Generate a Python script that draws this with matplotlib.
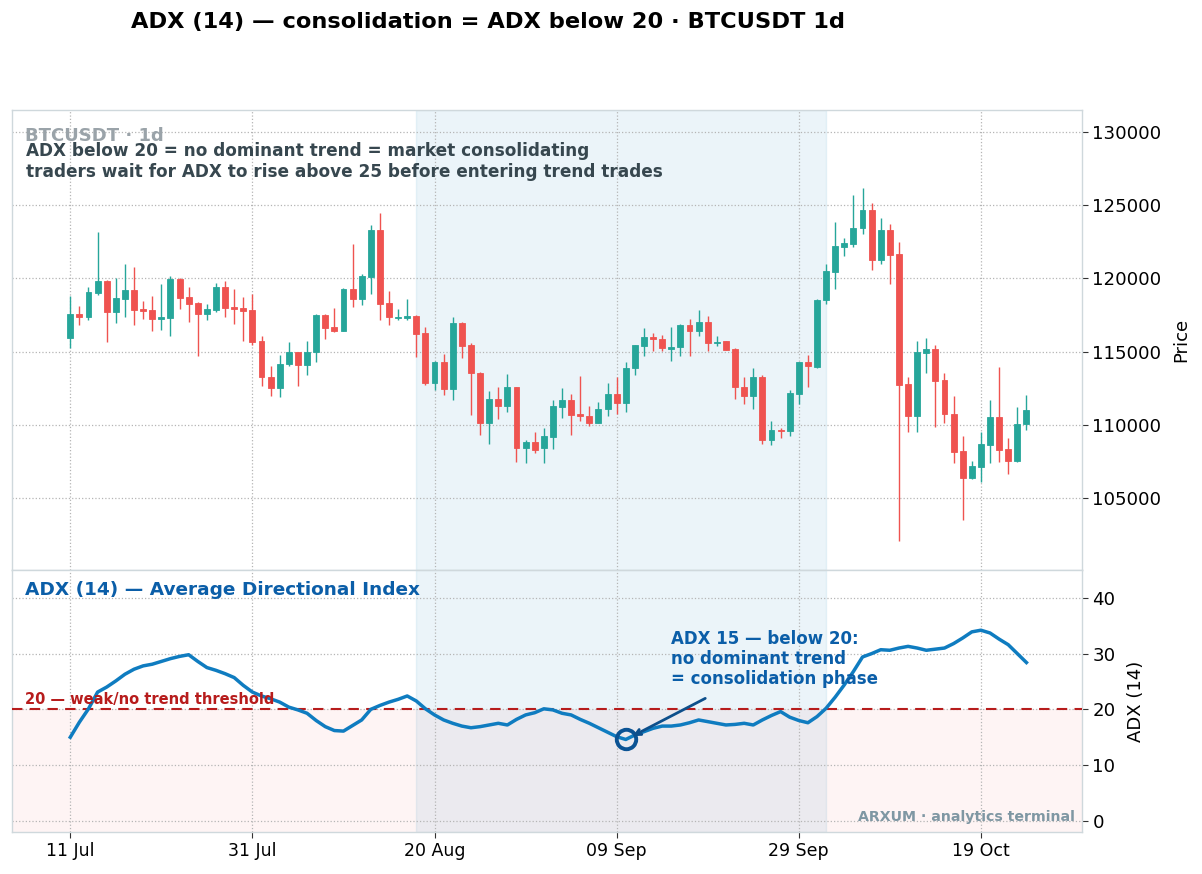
import numpy as np
import pandas as pd
import matplotlib
matplotlib.use("Agg")
import matplotlib.pyplot as plt
import matplotlib.dates as mdates

# BTCUSDT daily candles, 11 Jul .. 24 Oct
dates = pd.date_range("2025-07-11", periods=106, freq="D")

opens = [115936, 117534, 117329, 118995, 119818, 117694, 118584, 119178, 117900, 117808,
         117215, 117283, 119931, 118698, 118288, 117557, 117831, 119384, 118037, 117968,
         117808, 115754, 113288, 112489, 114132, 114999, 114112, 114953, 117499, 116681,
         116431, 119272, 118613, 120113, 123295, 118295, 117295, 117295, 117431, 116249,
         112863, 114271, 112476, 116931, 115431, 113545, 110113, 111749, 111249, 112567,
         108408, 108817, 108400, 109159, 111205, 111660, 110705, 110614, 110091, 111068,
         112068, 111477, 113864, 115410, 116023, 115887, 115205, 115296, 116796, 116387,
         117046, 115569, 115705, 115205, 112591, 111955, 113296, 108977, 109659, 109568,
         112091, 114319, 113978, 118554, 120445, 122176, 122358, 123474, 124659, 121265,
         123292, 121652, 112768, 110604, 114909, 115159, 113041, 110763, 108189, 106366,
         107140, 108599, 110512, 108325, 107505, 110079]
closes = [117534, 117351, 119041, 119795, 117694, 118630, 119178, 117831, 117763, 117215,
          117329, 119954, 118653, 118242, 117557, 117900, 119384, 117968, 117877, 117785,
          115685, 113242, 112489, 114178, 114999, 114064, 114976, 117499, 116635, 116431,
          119295, 118613, 120158, 123295, 118272, 117340, 117363, 117431, 116226, 112863,
          114271, 112476, 116931, 115408, 113522, 110090, 111749, 111249, 112567, 108408,
          108817, 108294, 109250, 111250, 111660, 110636, 110591, 110091, 111091, 112068,
          111477, 113909, 115478, 116023, 115841, 115228, 115319, 116796, 116387, 117046,
          115591, 115683, 115137, 112546, 111955, 113296, 108977, 109614, 109568, 112137,
          114319, 114000, 118546, 120490, 122199, 122404, 123474, 124659, 121265, 123292,
          121606, 112722, 110604, 114977, 115159, 112973, 110717, 108120, 106366, 107163,
          108667, 110512, 108257, 107505, 110079, 111012]
highs = [118813, 118128, 119429, 123196, 119909, 120046, 120959, 120776, 118470, 118813,
         119612, 120160, 120023, 119429, 118402, 118265, 119703, 119795, 119247, 118744,
         118927, 116050, 114041, 114771, 115685, 114999, 115704, 117545, 117545, 117954,
         119318, 122318, 120295, 123636, 124432, 119159, 117886, 118590, 117499, 116704,
         114340, 114817, 117386, 117000, 115613, 113635, 112340, 112613, 113454, 112567,
         108976, 109499, 109750, 111705, 112523, 112114, 113341, 111296, 111568, 112887,
         113296, 114319, 115478, 116614, 116273, 116137, 116682, 116910, 117205, 117864,
         117455, 116069, 115750, 115251, 113273, 113864, 113432, 110250, 109773, 112364,
         114319, 114773, 118592, 121014, 123884, 122791, 125661, 126139, 125114, 124135,
         123747, 122495, 113268, 115729, 115957, 115433, 113565, 111970, 109214, 107505,
         109510, 111674, 113952, 109100, 111218, 112016]
lows = [115229, 116804, 117146, 118881, 115685, 116963, 117374, 116781, 117237, 116438,
        116507, 116073, 117876, 117032, 114703, 117123, 117694, 117352, 116895, 115731,
        115480, 112626, 111941, 111872, 114041, 112658, 113408, 114271, 115863, 116317,
        116431, 118022, 118181, 118909, 117159, 116795, 117159, 117159, 114613, 112704,
        112386, 112044, 111704, 114544, 110680, 109294, 108681, 110385, 110840, 107453,
        107385, 108067, 107400, 108363, 110477, 109318, 110227, 109932, 110091, 110614,
        110705, 110864, 113409, 114705, 115023, 115069, 114341, 114682, 114705, 116069,
        115023, 115410, 115137, 111773, 111432, 111046, 108659, 108591, 109068, 109205,
        111432, 112568, 113887, 118280, 119260, 121515, 122153, 123064, 120558, 121014,
        119647, 102038, 109510, 109510, 113542, 109852, 110148, 107392, 103518, 106320,
        106093, 107392, 107459, 106662, 107459, 109670]

# ADX (14)
adx = [15.0, 17.7, 20.1, 23.1, 24.0, 25.1, 26.3, 27.2, 27.8, 28.1,
       28.6, 29.1, 29.5, 29.8, 28.6, 27.5, 27.0, 26.4, 25.7, 24.3,
       23.1, 22.4, 21.9, 21.3, 20.4, 19.9, 19.3, 18.0, 16.9, 16.2,
       16.1, 17.1, 18.1, 20.0, 20.7, 21.3, 21.8, 22.4, 21.5, 20.1,
       19.0, 18.1, 17.5, 17.0, 16.7, 16.9, 17.2, 17.5, 17.2, 18.2,
       19.0, 19.4, 20.1, 19.9, 19.3, 19.0, 18.2, 17.5, 16.7, 15.9,
       15.1, 14.6, 15.4, 16.0, 16.6, 17.0, 17.0, 17.2, 17.6, 18.1,
       17.8, 17.5, 17.2, 17.3, 17.5, 17.2, 18.1, 18.9, 19.6, 18.6,
       18.0, 17.6, 18.7, 20.2, 22.2, 24.4, 26.8, 29.4, 30.0, 30.7,
       30.6, 31.0, 31.3, 31.0, 30.6, 30.8, 31.0, 31.8, 32.8, 33.9,
       34.2, 33.7, 32.6, 31.6, 30.0, 28.4]

threshold = 20
span_start, span_end = 38, 83   # consolidation window (index into dates)
mark_idx = 61                   # ADX 15 point
tick_idx = [0, 20, 40, 60, 80, 100]

UP = "#26a69a"
DOWN = "#ef5350"
GRID = "#b5b5b5"
SPINE = "#cfd8dc"

plt.rcParams["font.family"] = "DejaVu Sans"

fig = plt.figure(figsize=(12.02, 8.74), dpi=100)
ax = fig.add_axes([12 / 1202, 1 - 570 / 874, 1070 / 1202, 460 / 874])
ax2 = fig.add_axes([12 / 1202, 1 - 832 / 874, 1070 / 1202, 262 / 874], sharex=ax)

x = mdates.date2num(dates)
o = np.array(opens)
c = np.array(closes)
h = np.array(highs)
l = np.array(lows)
col = np.where(c >= o, UP, DOWN)

# candles
ax.vlines(x, l, h, colors=col, linewidth=1.0, zorder=3)
body_lo = np.minimum(o, c)
body_h = np.maximum(np.abs(c - o), 60)
ax.bar(x, body_h, bottom=body_lo, width=0.65, color=col, edgecolor=col,
       linewidth=0.6, zorder=4)

for a in (ax, ax2):
    a.axvspan(x[span_start], x[span_end], facecolor="#2a8fc4", edgecolor="#2a8fc4",
              alpha=0.09, lw=1.0, zorder=0)
    a.grid(True, linestyle=":", color=GRID, linewidth=0.9, zorder=1)
    a.set_axisbelow(True)
    a.yaxis.tick_right()
    a.yaxis.set_label_position("right")
    for s in a.spines.values():
        s.set_color(SPINE)
        s.set_linewidth(1.0)
    a.tick_params(axis="y", labelsize=13.1, length=4, color="#333333")
    a.tick_params(axis="x", labelsize=12.5, length=4, color="#333333")

ax.set_ylim(100080, 131500)
ax.set_yticks([105000, 110000, 115000, 120000, 125000, 130000])
ax.set_ylabel("Price", fontsize=13, labelpad=8)
ax.tick_params(axis="x", labelbottom=False, length=0)

ax.text(0.012, 0.962, "BTCUSDT · 1d", transform=ax.transAxes, fontsize=13,
        fontweight="bold", color="#9aa3a9", va="top", ha="left", zorder=2)
ax.text(0.013, 0.930,
        "ADX below 20 = no dominant trend = market consolidating\n"
        "traders wait for ADX to rise above 25 before entering trend trades",
        transform=ax.transAxes, fontsize=12.2, fontweight="bold", color="#37474f",
        va="top", ha="left", linespacing=1.22, zorder=5)

# ADX panel
ax2.axhspan(-2, threshold, color="#ef5350", alpha=0.06, lw=0, zorder=0)
ax2.axhline(threshold, color="#b71c1c", linestyle=(0, (5, 3.5)), linewidth=1.5, zorder=3)
ax2.plot(x, adx, color="#0f7cc0", linewidth=2.5, zorder=4)
ax2.plot(x[mark_idx], adx[mark_idx], marker="o", markersize=14, markerfacecolor="none",
         markeredgecolor="#0b5394", markeredgewidth=2.8, zorder=6)
ax2.annotate("", xy=(x[mark_idx] + 0.5, adx[mark_idx] + 0.4), xytext=(x[70], 22.2),
             arrowprops=dict(arrowstyle="->", color="#0d4f8b", lw=2.0), zorder=6)
ax2.text(x[66], 34.2, "ADX 15 — below 20:\nno dominant trend\n= consolidation phase",
         fontsize=12, fontweight="bold", color="#0b5ea8", va="top", ha="left",
         linespacing=1.15, zorder=6)
ax2.text(0.012, 0.924, "ADX (14) — Average Directional Index", transform=ax2.transAxes,
         fontsize=13.3, fontweight="bold", color="#0b5ea8", va="center", ha="left")
ax2.text(0.012, threshold + 0.4, "20 — weak/no trend threshold",
         transform=ax2.get_yaxis_transform(), fontsize=10.5, fontweight="bold",
         color="#b71c1c", va="bottom", ha="left", zorder=5)
ax2.text(0.9935, 0.057, "ARXUM · analytics terminal", transform=ax2.transAxes,
         fontsize=10.15, fontweight="bold", color="#7f97a3", va="center", ha="right")

ax2.set_ylim(-2, 45)
ax2.set_yticks([0, 10, 20, 30, 40])
ax2.set_ylabel("ADX (14)", fontsize=13, labelpad=8)
ax2.set_xticks(x[tick_idx])
ax2.xaxis.set_major_formatter(mdates.DateFormatter("%d %b"))
ax2.set_xlim(x[0] - 6.4, x[0] + 111.1)

fig.text(0.406, 0.975, "ADX (14) — consolidation = ADX below 20 · BTCUSDT 1d",
         fontsize=16.2, fontweight="bold", ha="center", va="center")

fig.savefig("out.png", dpi=100)
